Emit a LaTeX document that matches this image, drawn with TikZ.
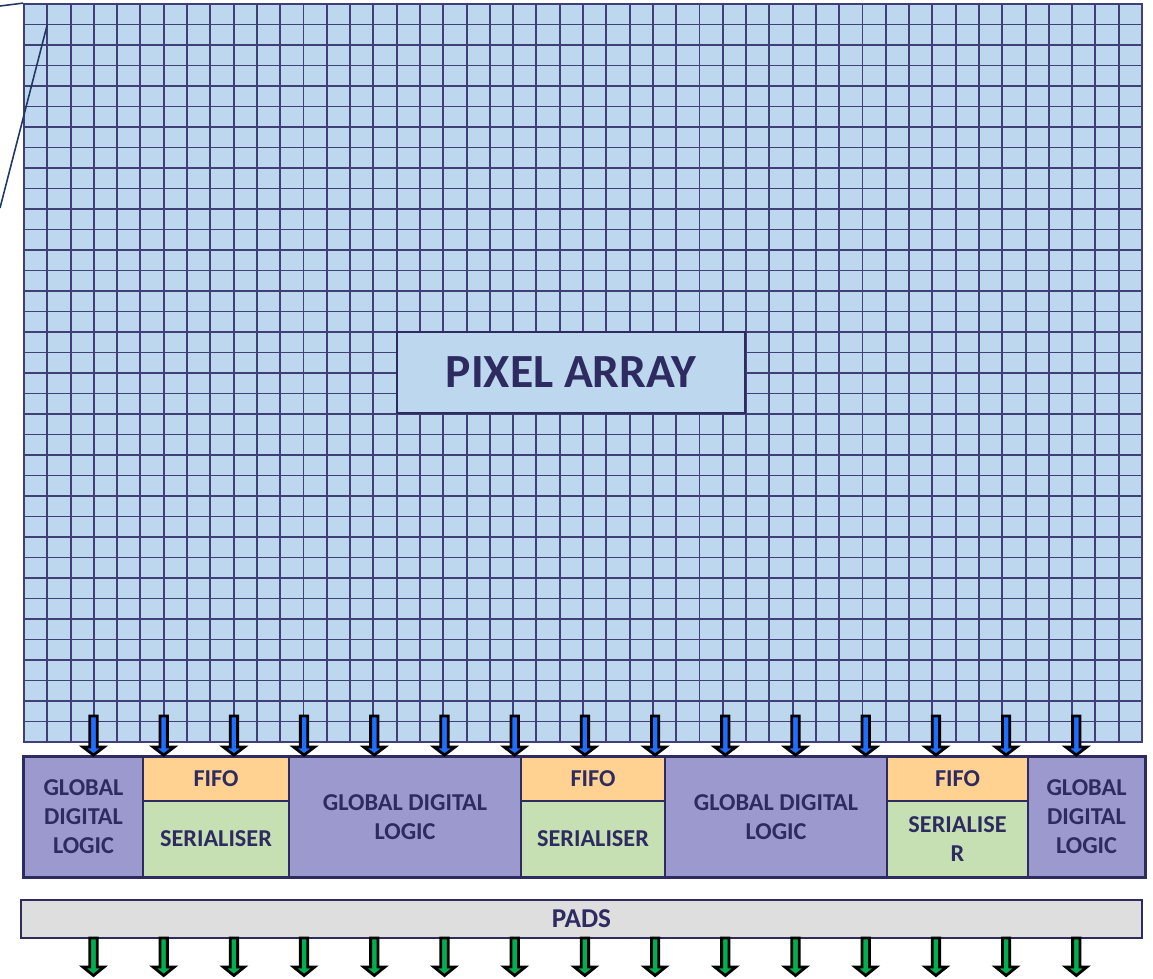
\documentclass[tikz,border=0pt]{standalone}
\usepackage{fontspec}
\setmainfont{Carlito}
\usetikzlibrary{positioning}

\definecolor{cellblue}{HTML}{BDD7EE}
\definecolor{gridnavy}{HTML}{403F78}
\definecolor{navy}{HTML}{2E2B60}
\definecolor{logicpurple}{HTML}{9C99CE}
\definecolor{fifoorange}{HTML}{FFD291}
\definecolor{sergreen}{HTML}{C6E0B4}
\definecolor{padgrey}{HTML}{DEDEDE}
\definecolor{arrowblue}{HTML}{1F6FFF}
\definecolor{arrowgreen}{HTML}{00B050}
\definecolor{calloutblue}{HTML}{1F3864}

\begin{document}
\begin{tikzpicture}[x=0.02cm, y=-0.02cm,
  caption/.style={text=navy, font=\fontsize{13.8}{16.5}\selectfont\bfseries, align=center, inner sep=0pt, text depth=-1.8pt},
  array/.style={rectangle, draw=gridnavy, line width=1.1pt, fill=cellblue, minimum width=22.36cm, minimum height=14.76cm},
  gridline/.style={draw=gridnavy, line width=1.1pt},
  title/.style={rectangle, draw=navy, line width=1.1pt, fill=cellblue, minimum width=6.96cm, minimum height=1.62cm, text=navy, font=\fontsize{27.1}{32}\selectfont\bfseries, text depth=-1.8pt},
  logic/.style={caption, draw=navy, line width=1.1pt, fill=logicpurple, minimum height=2.4cm},
  fifo/.style={caption, draw=navy, line width=1.1pt, fill=fifoorange, minimum height=0.88cm},
  serial/.style={caption, draw=navy, line width=1.1pt, fill=sergreen, minimum height=1.52cm},
  pads/.style={caption, draw=navy, line width=1.1pt, fill=padgrey, minimum width=22.42cm, minimum height=0.76cm, font=\fontsize{15.5}{18}\selectfont\bfseries, text depth=-2.3pt},
  frame/.style={draw=navy, line width=1.7pt},
  bluearrow/.style={draw=black, line width=1.6pt, fill=arrowblue},
  greenarrow/.style={draw=black, line width=1.6pt, fill=arrowgreen},
  callout/.style={draw=calloutblue, line width=0.9pt}
]
\useasboundingbox (0,0) rectangle (1153,978);

% pixel matrix
\node (array) at (583,373) [array] {};
\foreach \c in {1,...,47}
  \draw [gridline] ({24+\c*23.2917},4) -- ({24+\c*23.2917},742);
\foreach \r in {1,...,35}
  \draw [gridline] (24,{4+\r*20.5}) -- (1142,{4+\r*20.5});
\node (title) at (571,372.5) [title] {PIXEL ARRAY};

% zoom lines
\coordinate (calloutA) at (0,6);
\coordinate (cellA) at (47.3,24.5);
\coordinate (calloutB) at (0,208);
\draw [callout] (calloutA) -- (array.north west);
\draw [callout] (cellA) -- (calloutB);

% periphery
\node (gdlA) at (83.5,817) [logic, minimum width=2.38cm] {GLOBAL\\DIGITAL\\LOGIC};
\node (fifoA) at (216,779) [fifo, minimum width=2.92cm] {FIFO};
\node (serA) at (216,839) [serial, minimum width=2.92cm] {SERIALISER};
\node (gdlB) at (405,817) [logic, minimum width=4.64cm] {GLOBAL DIGITAL\\LOGIC};
\node (fifoB) at (593,779) [fifo, minimum width=2.88cm] {FIFO};
\node (serB) at (593,839) [serial, minimum width=2.88cm] {SERIALISER};
\node (gdlC) at (776,817) [logic, minimum width=4.44cm] {GLOBAL DIGITAL\\LOGIC};
\node (fifoC) at (957.5,779) [fifo, minimum width=2.82cm] {FIFO};
\node (serC) at (957.5,839) [serial, minimum width=2.82cm] {SERIALISE\\R};
\node (gdlD) at (1086.5,817) [logic, minimum width=2.34cm] {GLOBAL\\DIGITAL\\LOGIC};
\draw [frame] (gdlA.north west) rectangle (gdlD.south east);

\node (pads) at (581.5,919) [pads] {PADS};

% data arrows
\foreach \i in {0,...,14} {
  \coordinate (inT\i) at ({93.5+70.2*\i},716);
  \coordinate (inB\i) at ({93.5+70.2*\i},755);
  \draw [bluearrow] (inT\i) ++(-3.7,0) -- ++(0,31) -- ++(-6.8,0) -- (inB\i)
    -- ++(10.5,-8) -- ++(-6.8,0) -- ++(0,-31) -- cycle;
  \coordinate (outT\i) at ({93.5+70.2*\i},938);
  \coordinate (outB\i) at ({93.5+70.2*\i},975.5);
  \draw [greenarrow] (outT\i) ++(-3.7,0) -- ++(0,29) -- ++(-6.8,0) -- (outB\i)
    -- ++(10.5,-8.5) -- ++(-6.8,0) -- ++(0,-29) -- cycle;
}

\end{tikzpicture}
\end{document}
